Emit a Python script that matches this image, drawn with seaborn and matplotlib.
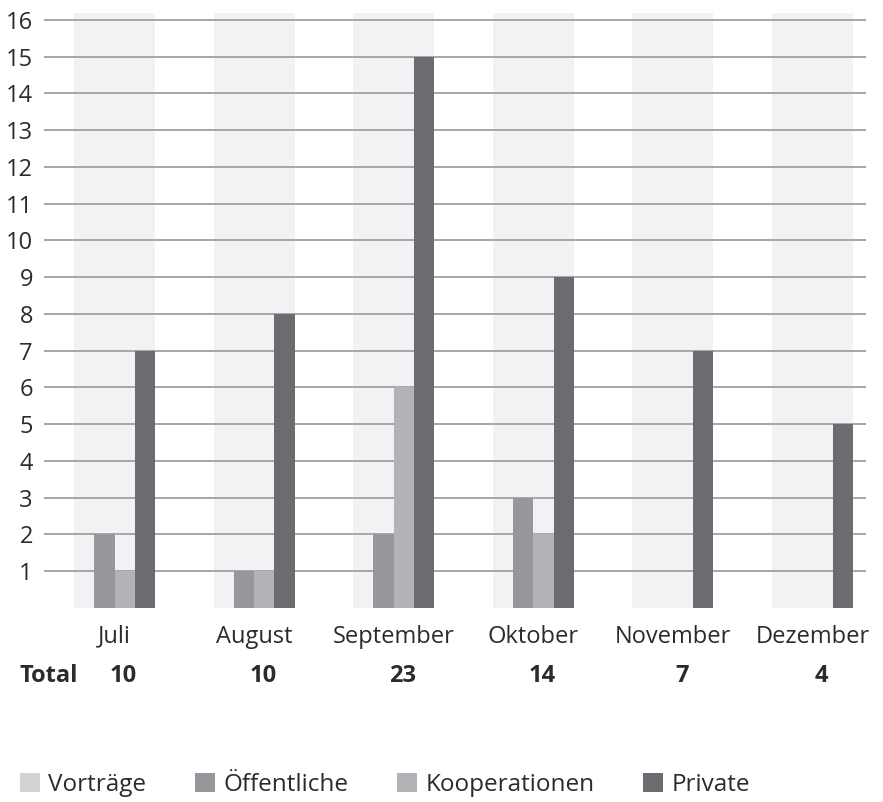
import matplotlib
matplotlib.use("Agg")
import matplotlib.pyplot as plt
import matplotlib.transforms as mtransforms
import pandas as pd
import seaborn as sns

# Monthly event counts by type
months = ["Juli", "August", "September", "Oktober", "November", "Dezember"]
vortraege = [0, 0, 0, 0, 0, 0]
oeffentliche = [2, 1, 2, 3, 0, 0]
kooperationen = [1, 1, 6, 2, 0, 0]
private = [7, 8, 15, 9, 7, 5]
totals = [10, 10, 23, 14, 7, 4]

series_names = ["Vorträge", "Öffentliche", "Kooperationen", "Private"]
series_colors = ["#d2d3d5", "#96979b", "#b2b3b6", "#6b6b70"]
y_ticks = list(range(1, 17))

rows = []
for name, values in zip(series_names, [vortraege, oeffentliche, kooperationen, private]):
    for month, v in zip(months, values):
        rows.append({"Monat": month, "Art": name, "Anzahl": v})
df = pd.DataFrame(rows)

sns.set_theme(style="white")
plt.rcParams["font.family"] = ["Open Sans", "DejaVu Sans"]
text_color = "#2b2b2b"
fs = 17

W, H = 883, 802
fig = plt.figure(figsize=(W / 100, H / 100), dpi=100)
ax = fig.add_axes([44 / W, 194 / H, (866 - 44) / W, (608 - 13) / H])

group_width = 0.58
sns.barplot(
    data=df, x="Monat", y="Anzahl", hue="Art",
    order=months, hue_order=series_names,
    palette=dict(zip(series_names, series_colors)),
    width=group_width, gap=0, saturation=1, errorbar=None,
    linewidth=0, zorder=2, ax=ax,
)

# light background band behind each month group
for i in range(len(months)):
    ax.axvspan(i - group_width / 2, i + group_width / 2, color="#f1f2f4", lw=0, zorder=0)

ax.set_xlim(-0.505, 5.383)
ax.set_ylim(0, 16.19)
ax.set_yticks(y_ticks)
ax.set_axisbelow(True)
ax.yaxis.grid(True, color="#a5a6a8", lw=1.4)
ax.xaxis.grid(False)
for s in ax.spines.values():
    s.set_visible(False)
ax.tick_params(axis="y", length=0, pad=8, labelsize=fs, labelcolor=text_color)
ax.tick_params(axis="x", length=0, pad=12, labelsize=fs, labelcolor=text_color)
ax.set_xlabel("")
ax.set_ylabel("")

# totals row
trans = mtransforms.blended_transform_factory(ax.transData, fig.transFigure)
y_tot = 1 - 676 / H
fig.text(20 / W, y_tot, "Total", ha="left", va="center", fontsize=fs,
         fontweight="bold", color=text_color)
for i, t in enumerate(totals):
    ax.text(i + 0.065, y_tot, str(t), transform=trans, ha="center", va="center",
            fontsize=fs, fontweight="bold", color=text_color)

handles, labels = ax.get_legend_handles_labels()
ax.get_legend().remove()
leg = fig.legend(handles, labels, loc="center left", bbox_to_anchor=(20 / W, 1 - 785 / H),
                 ncol=4, frameon=False, handlelength=0.82, handleheight=0.82,
                 handletextpad=0.35, columnspacing=2.0, fontsize=17.5,
                 borderpad=0, borderaxespad=0)
for txt in leg.get_texts():
    txt.set_color(text_color)

fig.savefig("out.png", dpi=100)
